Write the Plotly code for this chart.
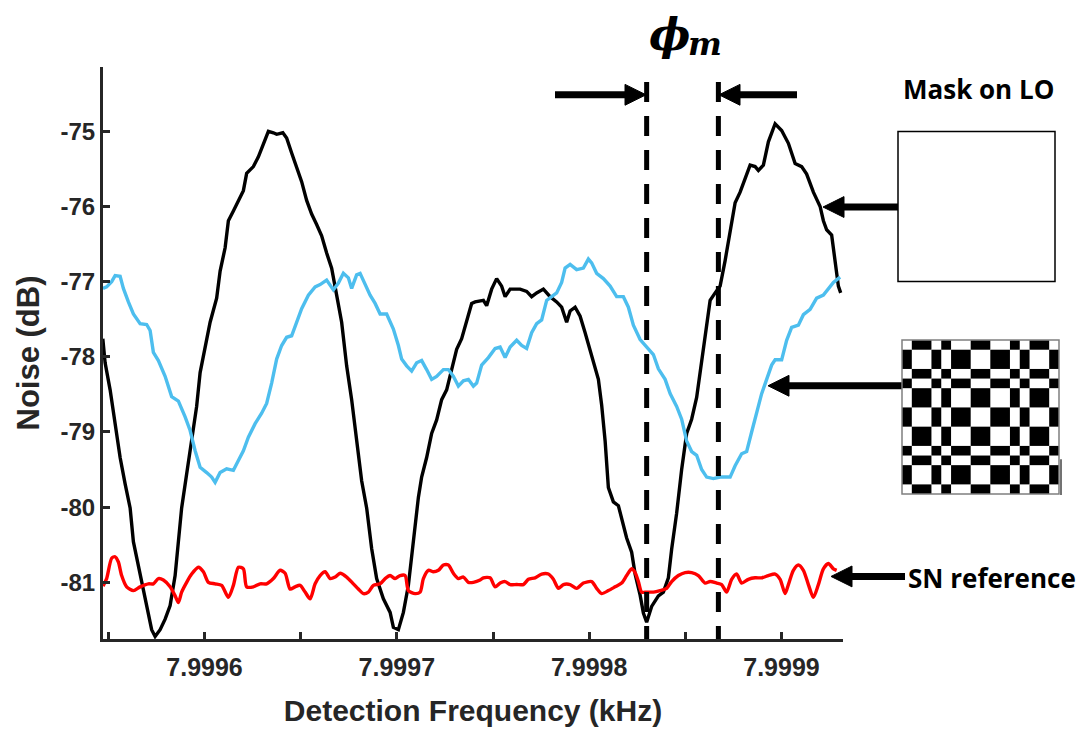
import plotly.graph_objects as go

# ---------------- data ----------------
black_freq = [7.9995471, 7.9995483, 7.9995509, 7.9995535, 7.9995561, 7.9995587, 7.9995613, 7.9995630,
              7.9995656, 7.9995673, 7.9995699, 7.9995725, 7.9995743, 7.9995769, 7.9995795, 7.9995821,
              7.9995847, 7.9995864, 7.9995881, 7.9995907, 7.9995933, 7.9995959, 7.9995977, 7.9996003,
              7.9996029, 7.9996063, 7.9996081, 7.9996107, 7.9996124, 7.9996150, 7.9996176, 7.9996202,
              7.9996219, 7.9996254, 7.9996280, 7.9996306, 7.9996332, 7.9996358, 7.9996375, 7.9996407,
              7.9996427, 7.9996453, 7.9996479, 7.9996505, 7.9996531, 7.9996557, 7.9996583, 7.9996609,
              7.9996635, 7.9996661, 7.9996687, 7.9996713, 7.9996739, 7.9996765, 7.9996791, 7.9996817,
              7.9996843, 7.9996869, 7.9996895, 7.9996930, 7.9996965, 7.9996982, 7.9997008, 7.9997034,
              7.9997060, 7.9997086, 7.9997112, 7.9997129, 7.9997155, 7.9997181, 7.9997207, 7.9997233,
              7.9997259, 7.9997285, 7.9997311, 7.9997337, 7.9997363, 7.9997389, 7.9997407, 7.9997450,
              7.9997467, 7.9997493, 7.9997519, 7.9997545, 7.9997563, 7.9997589, 7.9997641, 7.9997675,
              7.9997701, 7.9997727, 7.9997762, 7.9997797, 7.9997831, 7.9997857, 7.9997883, 7.9997901,
              7.9997927, 7.9997953, 7.9997979, 7.9998005, 7.9998031, 7.9998048, 7.9998065, 7.9998083,
              7.9998100, 7.9998126, 7.9998152, 7.9998169, 7.9998195, 7.9998221, 7.9998239, 7.9998265,
              7.9998282, 7.9998299, 7.9998325, 7.9998360, 7.9998386, 7.9998412, 7.9998429, 7.9998455,
              7.9998481, 7.9998507, 7.9998533, 7.9998559, 7.9998585, 7.9998603, 7.9998629, 7.9998655,
              7.9998681, 7.9998707, 7.9998733, 7.9998759, 7.9998785, 7.9998811, 7.9998837, 7.9998863,
              7.9998880, 7.9998906, 7.9998932, 7.9998967, 7.9999001, 7.9999036, 7.9999071, 7.9999105,
              7.9999131, 7.9999166, 7.9999201, 7.9999218, 7.9999235, 7.9999261, 7.9999279, 7.9999296,
              7.9999308]
black_db = [-77.76, -78.08, -78.44, -78.89, -79.34, -79.69, -80.01, -80.46,
            -80.77, -81.00, -81.31, -81.63, -81.72, -81.63, -81.49, -81.31,
            -80.91, -80.46, -80.01, -79.56, -79.11, -78.66, -78.21, -77.90,
            -77.54, -77.22, -76.86, -76.55, -76.19, -76.06, -75.92, -75.79,
            -75.56, -75.47, -75.34, -75.16, -75.00, -75.02, -75.04, -75.02,
            -75.09, -75.29, -75.47, -75.67, -75.92, -76.10, -76.24, -76.39,
            -76.62, -76.82, -77.18, -77.54, -78.12, -78.57, -79.11, -79.65,
            -80.01, -80.55, -80.95, -81.22, -81.40, -81.60, -81.63, -81.40,
            -81.04, -80.46, -79.87, -79.60, -79.34, -79.02, -78.84, -78.57,
            -78.44, -78.17, -77.90, -77.76, -77.54, -77.29, -77.27, -77.25,
            -77.32, -77.10, -76.96, -77.06, -77.20, -77.10, -77.10, -77.13,
            -77.20, -77.15, -77.10, -77.20, -77.27, -77.34, -77.54, -77.39,
            -77.34, -77.46, -77.68, -77.92, -78.16, -78.30, -78.64, -79.12,
            -79.74, -79.93, -79.98, -80.17, -80.41, -80.60, -80.89, -81.17,
            -81.41, -81.53, -81.32, -81.18, -81.13, -80.94, -80.56, -80.08,
            -79.50, -79.02, -78.83, -78.54, -78.06, -77.68, -77.25, -77.15,
            -77.06, -76.72, -76.34, -75.95, -75.81, -75.62, -75.45, -75.47,
            -75.52, -75.45, -75.14, -74.90, -74.99, -75.16, -75.43, -75.47,
            -75.57, -75.81, -76.00, -76.19, -76.31, -76.38, -76.77, -77.06,
            -77.15]

blue_freq = [7.9995472, 7.9995491, 7.9995517, 7.9995535, 7.9995561, 7.9995578, 7.9995604, 7.9995630,
             7.9995665, 7.9995699, 7.9995717, 7.9995734, 7.9995760, 7.9995795, 7.9995829, 7.9995864,
             7.9995899, 7.9995925, 7.9995951, 7.9995977, 7.9996011, 7.9996037, 7.9996055, 7.9996081,
             7.9996115, 7.9996150, 7.9996176, 7.9996202, 7.9996228, 7.9996263, 7.9996297, 7.9996323,
             7.9996349, 7.9996375, 7.9996401, 7.9996427, 7.9996453, 7.9996479, 7.9996505, 7.9996540,
             7.9996575, 7.9996601, 7.9996635, 7.9996670, 7.9996696, 7.9996722, 7.9996748, 7.9996765,
             7.9996791, 7.9996809, 7.9996835, 7.9996861, 7.9996887, 7.9996913, 7.9996947, 7.9996982,
             7.9997008, 7.9997025, 7.9997051, 7.9997077, 7.9997103, 7.9997129, 7.9997155, 7.9997181,
             7.9997207, 7.9997242, 7.9997268, 7.9997294, 7.9997320, 7.9997346, 7.9997372, 7.9997398,
             7.9997415, 7.9997441, 7.9997476, 7.9997511, 7.9997537, 7.9997563, 7.9997589, 7.9997623,
             7.9997649, 7.9997675, 7.9997701, 7.9997727, 7.9997753, 7.9997779, 7.9997805, 7.9997831,
             7.9997857, 7.9997875, 7.9997901, 7.9997935, 7.9997970, 7.9997996, 7.9998013, 7.9998039,
             7.9998074, 7.9998109, 7.9998143, 7.9998178, 7.9998204, 7.9998230, 7.9998265, 7.9998299,
             7.9998334, 7.9998360, 7.9998395, 7.9998421, 7.9998455, 7.9998481, 7.9998507, 7.9998533,
             7.9998559, 7.9998585, 7.9998611, 7.9998646, 7.9998681, 7.9998733, 7.9998759, 7.9998793,
             7.9998819, 7.9998845, 7.9998871, 7.9998897, 7.9998923, 7.9998949, 7.9998967, 7.9999001,
             7.9999027, 7.9999053, 7.9999088, 7.9999114, 7.9999149, 7.9999183, 7.9999218, 7.9999244,
             7.9999270, 7.9999305]
blue_db = [-77.09, -77.07, -77.00, -76.92, -76.93, -77.09, -77.27, -77.43,
           -77.56, -77.57, -77.65, -77.94, -78.05, -78.26, -78.53, -78.59,
           -78.80, -78.98, -79.25, -79.47, -79.54, -79.60, -79.67, -79.54,
           -79.49, -79.51, -79.38, -79.25, -79.07, -78.89, -78.75, -78.62,
           -78.35, -78.03, -77.85, -77.74, -77.72, -77.54, -77.36, -77.18,
           -77.07, -77.04, -76.98, -77.11, -77.02, -76.89, -76.95, -77.09,
           -76.91, -76.89, -77.04, -77.18, -77.29, -77.43, -77.43, -77.63,
           -77.85, -78.03, -78.12, -78.19, -78.08, -78.05, -78.17, -78.30,
           -78.26, -78.17, -78.17, -78.26, -78.39, -78.32, -78.30, -78.39,
           -78.35, -78.11, -78.01, -77.89, -77.87, -78.01, -77.87, -77.78,
           -77.85, -77.89, -77.68, -77.56, -77.51, -77.25, -77.20, -77.15,
           -77.01, -76.82, -76.77, -76.84, -76.82, -76.70, -76.75, -76.89,
           -76.96, -77.06, -77.20, -77.20, -77.34, -77.58, -77.77, -77.87,
           -77.97, -78.16, -78.30, -78.49, -78.66, -78.83, -79.12, -79.26,
           -79.31, -79.50, -79.60, -79.62, -79.60, -79.60, -79.45, -79.29,
           -79.26, -79.00, -78.73, -78.49, -78.30, -78.11, -78.04, -78.04,
           -77.78, -77.61, -77.58, -77.44, -77.37, -77.22, -77.18, -77.10,
           -77.01, -76.94]

red_freq = [7.9995472, 7.9995491, 7.9995517, 7.9995535, 7.9995552, 7.9995569, 7.9995595, 7.9995630,
            7.9995665, 7.9995708, 7.9995734, 7.9995760, 7.9995786, 7.9995821, 7.9995847, 7.9995864,
            7.9995881, 7.9995907, 7.9995933, 7.9995968, 7.9995994, 7.9996020, 7.9996055, 7.9996089,
            7.9996124, 7.9996150, 7.9996176, 7.9996202, 7.9996219, 7.9996254, 7.9996289, 7.9996323,
            7.9996358, 7.9996393, 7.9996419, 7.9996445, 7.9996471, 7.9996497, 7.9996523, 7.9996549,
            7.9996575, 7.9996601, 7.9996627, 7.9996653, 7.9996679, 7.9996705, 7.9996739, 7.9996774,
            7.9996800, 7.9996826, 7.9996852, 7.9996878, 7.9996913, 7.9996939, 7.9996965, 7.9996991,
            7.9997017, 7.9997043, 7.9997060, 7.9997095, 7.9997121, 7.9997138, 7.9997164, 7.9997190,
            7.9997216, 7.9997242, 7.9997268, 7.9997294, 7.9997320, 7.9997346, 7.9997372, 7.9997398,
            7.9997433, 7.9997450, 7.9997485, 7.9997511, 7.9997537, 7.9997563, 7.9997589, 7.9997623,
            7.9997658, 7.9997684, 7.9997719, 7.9997753, 7.9997788, 7.9997814, 7.9997840, 7.9997866,
            7.9997901, 7.9997935, 7.9997970, 7.9998013, 7.9998039, 7.9998065, 7.9998100, 7.9998135,
            7.9998169, 7.9998195, 7.9998221, 7.9998239, 7.9998256, 7.9998273, 7.9998299, 7.9998334,
            7.9998369, 7.9998403, 7.9998429, 7.9998464, 7.9998499, 7.9998533, 7.9998568, 7.9998603,
            7.9998629, 7.9998663, 7.9998689, 7.9998715, 7.9998741, 7.9998767, 7.9998793, 7.9998828,
            7.9998863, 7.9998897, 7.9998932, 7.9998967, 7.9998993, 7.9999019, 7.9999036, 7.9999062,
            7.9999088, 7.9999114, 7.9999140, 7.9999166, 7.9999192, 7.9999218, 7.9999244, 7.9999270,
            7.9999287]
red_db = [-81.05, -80.95, -80.68, -80.66, -80.73, -80.91, -81.06, -81.11,
          -81.06, -81.02, -81.02, -80.95, -80.97, -81.06, -81.18, -81.27,
          -81.13, -81.00, -80.89, -80.80, -80.86, -81.00, -81.02, -81.04,
          -81.20, -81.04, -80.80, -80.82, -81.06, -81.06, -81.02, -81.02,
          -80.95, -80.84, -80.88, -81.09, -81.06, -81.04, -81.13, -81.22,
          -81.02, -80.91, -80.86, -80.95, -80.93, -80.88, -80.93, -81.02,
          -81.09, -81.15, -81.13, -81.04, -81.02, -80.95, -80.91, -80.95,
          -80.91, -80.91, -81.11, -81.15, -81.13, -80.95, -80.84, -80.86,
          -80.84, -80.77, -80.77, -80.88, -80.95, -80.93, -81.00, -81.00,
          -80.97, -80.94, -80.94, -81.06, -81.01, -80.99, -81.03, -81.03,
          -81.03, -80.96, -80.94, -80.89, -80.89, -80.96, -81.08, -81.03,
          -81.03, -81.08, -81.01, -80.99, -81.08, -81.15, -81.11, -81.06,
          -81.01, -80.91, -80.82, -80.87, -80.99, -81.13, -81.13, -81.13,
          -81.11, -81.08, -80.99, -80.91, -80.87, -80.87, -80.91, -81.01,
          -80.99, -81.01, -81.03, -81.13, -80.96, -80.89, -81.01, -80.96,
          -80.94, -80.94, -80.91, -80.89, -80.96, -81.15, -81.03, -80.84,
          -80.77, -80.84, -81.03, -81.20, -81.03, -80.82, -80.75, -80.82,
          -80.84]

x_tick_vals = [7.99955, 7.9996, 7.99965, 7.9997, 7.99975, 7.9998, 7.99985, 7.9999]
x_tick_text = ["", "7.9996", "", "7.9997", "", "7.9998", "", "7.9999"]
y_tick_vals = [-81, -80, -79, -78, -77, -76, -75]
y_tick_text = ["-81", "-80", "-79", "-78", "-77", "-76", "-75"]

phase_mask_freqs = [7.9998299, 7.9998672]   # the two dashed markers (phi_m)
mask_cells = [1, 2, 1, 1, 2, 2, 2, 1, 1, 2, 1]  # relative widths of the LO mask pattern

# ---------------- layout helpers (pixel -> paper) ----------------
W, H = 1088, 734
ML, MR, MT, MB = 103, 245, 67, 91
PW, PH = W - ML - MR, H - MT - MB


def px(x):
    return (x - ML) / PW


def py(y):
    return (H - MB - y) / PH


AX = "#262626"

fig = go.Figure()
fig.add_trace(go.Scatter(x=black_freq, y=black_db, mode="lines",
                         line=dict(color="#000000", width=3.4), name="Mask on LO: open"))
fig.add_trace(go.Scatter(x=blue_freq, y=blue_db, mode="lines",
                         line=dict(color="#4DBEEE", width=3.4), name="Mask on LO: pattern"))
fig.add_trace(go.Scatter(x=red_freq, y=red_db, mode="lines",
                         line=dict(color="#FF0000", width=3.4, shape="spline", smoothing=0.7),
                         name="SN reference"))

shapes = []
# dashed phi_m markers
for f in phase_mask_freqs:
    shapes.append(dict(type="line", xref="x", yref="paper", x0=f, x1=f, y0=py(82), y1=0,
                       line=dict(color="black", width=5, dash="20px,14px")))


def arrow(tail_x, tip_x, y, shaft=7, head_len=21, head_half=10.5):
    d = 1 if tip_x > tail_x else -1
    base = tip_x - d * head_len
    shapes.append(dict(type="line", xref="paper", yref="paper",
                       x0=px(tail_x), x1=px(base + d * 1), y0=py(y), y1=py(y),
                       line=dict(color="black", width=shaft)))
    path = "M {} {} L {} {} L {} {} Z".format(px(tip_x), py(y), px(base), py(y - head_half),
                                             px(base), py(y + head_half))
    shapes.append(dict(type="path", xref="paper", yref="paper", path=path,
                       fillcolor="black", line=dict(color="black", width=1)))


arrow(555, 646, 95)
arrow(797, 719, 95)
arrow(898, 823, 208)
arrow(902, 768, 388)
arrow(905, 831, 580)

# open mask (white square)
shapes.append(dict(type="rect", xref="paper", yref="paper", x0=px(898), x1=px(1055),
                   y0=py(283), y1=py(132), fillcolor="white", line=dict(color="black", width=1.5)))

# patterned mask (checkerboard)
bx0, bx1, by0, by1 = 902, 1059, 342, 497
tot = sum(mask_cells)
ux = (bx1 - bx0) / tot
uy = (by1 - by0) / tot
yy = by0
for i, hh in enumerate(mask_cells):
    xx = bx0
    for j, ww in enumerate(mask_cells):
        if (i + j) % 2 == 1:
            shapes.append(dict(type="rect", xref="paper", yref="paper",
                               x0=px(xx), x1=px(xx + ww * ux), y0=py(yy + hh * uy), y1=py(yy),
                               fillcolor="black", line=dict(width=0)))
        xx += ww * ux
    yy += hh * uy
shapes.append(dict(type="rect", xref="paper", yref="paper", x0=px(bx0), x1=px(bx1),
                   y0=py(by1), y1=py(by0), line=dict(color="#7f7f7f", width=1.5)))
shapes.append(dict(type="line", xref="paper", yref="paper", x0=px(1061), x1=px(1061),
                   y0=py(498), y1=py(462), line=dict(color="#444444", width=1.5)))

annotations = [
    dict(xref="paper", yref="paper", x=px(669), y=py(34), text="<b><i>ϕ</i></b>",
         showarrow=False, font=dict(family="DejaVu Serif", size=44, color="black"),
         xanchor="center", yanchor="middle"),
    dict(xref="paper", yref="paper", x=px(705), y=py(44), text="<b><i>m</i></b>",
         showarrow=False, font=dict(family="DejaVu Serif", size=32, color="black"),
         xanchor="center", yanchor="middle"),
    dict(xref="paper", yref="paper", x=px(978), y=py(89), text="Mask on LO",
         showarrow=False, font=dict(family="Open Sans", size=26, color="black", weight="bold"),
         xanchor="center", yanchor="middle"),
    dict(xref="paper", yref="paper", x=px(992), y=py(582), text="SN reference",
         showarrow=False, font=dict(family="Open Sans", size=26, color="black", weight="bold"),
         xanchor="center", yanchor="middle"),
]

fig.update_layout(
    width=W, height=H,
    margin=dict(l=ML, r=MR, t=MT, b=MB, pad=0),
    paper_bgcolor="white", plot_bgcolor="white",
    showlegend=False,
    shapes=shapes, annotations=annotations,
    xaxis=dict(range=[7.9995472, 7.9999320], tickvals=x_tick_vals, ticktext=x_tick_text,
               ticks="inside", ticklen=7, tickwidth=2.5, tickcolor=AX,
               showline=True, linecolor=AX, linewidth=3, showgrid=False, zeroline=False,
               ticklabelstandoff=4,
               tickfont=dict(family="Liberation Sans", size=25, color=AX, weight="bold"),
               title=dict(text="Detection Frequency (kHz)", standoff=20,
                          font=dict(family="Liberation Sans", size=30, color=AX, weight="bold"))),
    yaxis=dict(range=[-81.754, -74.145], tickvals=y_tick_vals, ticktext=y_tick_text,
               ticks="inside", ticklen=7, tickwidth=2.5, tickcolor=AX,
               showline=True, linecolor=AX, linewidth=3, showgrid=False, zeroline=False,
               tickfont=dict(family="Liberation Sans", size=24, color=AX, weight="bold"),
               title=dict(text="Noise (dB)", standoff=12,
                          font=dict(family="Liberation Sans", size=31, color=AX, weight="bold"))),
)

fig.write_html("out.html")
